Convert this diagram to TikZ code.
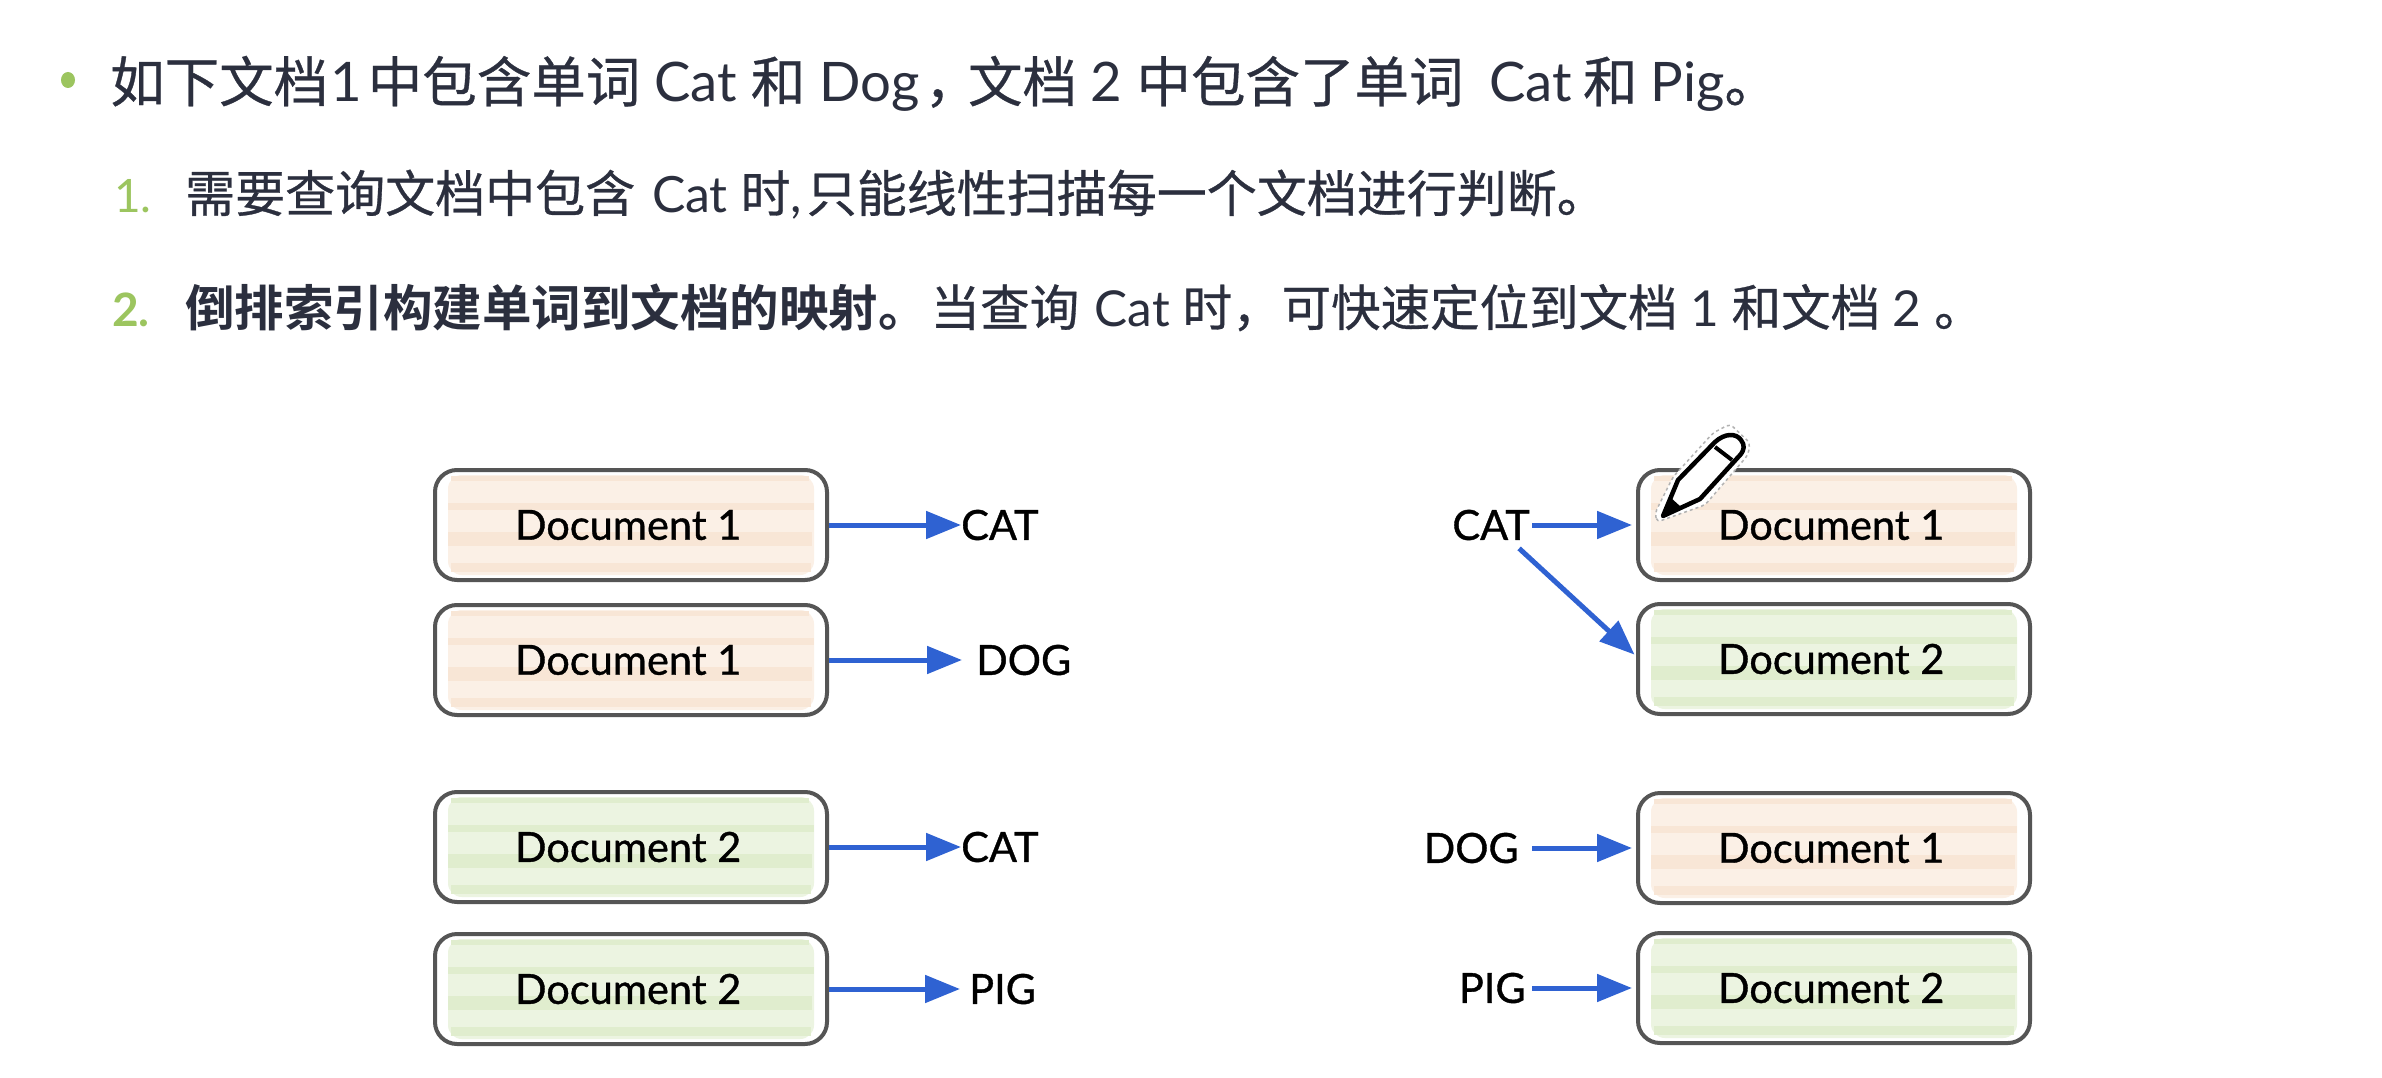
\documentclass[tikz,border=0pt]{standalone}
\usepackage{fontspec}
\setmainfont{Lato}
\newfontfamily\cjk[FakeBold=0.6]{Noto Sans CJK SC}
\newfontfamily\cjkbold{Noto Sans CJK SC Bold}
\newfontfamily\wordfont[FakeBold=0.9]{Lato}
\usetikzlibrary{arrows.meta,calc}
\definecolor{inkdark}{HTML}{2B2F3E}
\definecolor{leaf}{HTML}{9CC55F}
\definecolor{edge}{HTML}{555555}
\definecolor{arrowblue}{HTML}{2F62D2}
\definecolor{peachA}{HTML}{FBF0E6}
\definecolor{peachB}{HTML}{F8E6D6}
\definecolor{greenA}{HTML}{ECF4E1}
\definecolor{greenB}{HTML}{E0EDCE}
\newcommand{\zh}[1]{{\cjk #1}}
\newcommand{\zhb}[1]{{\cjkbold #1}}
% fill and stripes under a box, then the box itself
\newcommand{\doc}[6]{% name, cx, cy, light, dark, text
  \begin{scope}[shift={(#2,#3)}]
    \fill[#4,rounded corners=14pt] (-183,-50) rectangle (183,50);
    \fill[#5] (-180,-49) rectangle (178,-44);
    \fill[#5] (-183,-22) rectangle (183,-15);
    \fill[#5] (-183,7) rectangle (181,21);
    \fill[#5] (-180,38) rectangle (180,47);
  \end{scope}
  \node[docbox] (#1) at (#2,#3) {\makebox[226pt][l]{\hspace{-3pt}#6}};
}
\tikzset{
  x=1pt,y=-1pt,
  head1/.style={anchor=base west,inner sep=0pt,text=inkdark,font=\fontsize{54.5}{60}\selectfont},
  head2/.style={anchor=base west,inner sep=0pt,text=inkdark,font=\fontsize{49.5}{58}\selectfont},
  numlab/.style={anchor=base west,inner sep=0pt,text=leaf,font=\fontsize{46}{52}\selectfont},
  word/.style={inner sep=0pt,text=black,font=\wordfont\fontsize{41.5}{48}\selectfont},
  docbox/.style={draw=edge,line width=4pt,rounded corners=22pt,minimum height=110pt,
    inner xsep=83pt,inner ysep=0pt,text=black,
    font=\wordfont\fontsize{41.5}{48}\selectfont},
  flow/.style={draw=arrowblue,line width=5pt,-{Triangle[length=35pt,width=27pt]}},
}
\begin{document}
\begin{tikzpicture}
\useasboundingbox (0,0) rectangle (2382,1078);
\fill[white] (0,0) rectangle (2382,1078);

% heading text
\fill[leaf] (68,80) ellipse (7pt and 8pt);
\node[head1] (t1) at (110,102) {\zh{如下文档}\hspace{2pt}1\hspace{6pt}\zh{中包含单词} Cat \zh{和} Dog\hspace{5pt}\zh{，}\hspace{-11pt}\zh{文档} 2 \zh{中包含了单词}\hspace{12pt} Cat\hspace{-3pt} \zh{和}\hspace{-1pt} Pig\zh{。}};
\node[numlab] (n1) at (114,212) {1.};
\node[head2,font=\fontsize{50}{58}\selectfont] (t2) at (185,212) {\zh{需要查询文档中包含}\hspace{4pt} Cat \zh{时}, \hspace{-8pt}\zh{只能线性扫描每一个文档进行判断。}};
\node[numlab,font=\fontsize{46}{52}\selectfont\bfseries] (n2) at (112,326) {2.};
\node[head2] (t3) at (185,326) {\zhb{倒排索引构建单词到文档的映射。}\hspace{3pt}\zh{当查询}\hspace{3pt} Cat \zh{时，可快速定位到文档} 1 \zh{和文档} 2 \zh{。}};

% left column
\doc{a1}{631}{525}{peachA}{peachB}{Document 1}
\doc{a2}{631}{660}{peachA}{peachB}{Document 1}
\doc{a3}{631}{847}{greenA}{greenB}{Document 2}
\doc{a4}{631}{989}{greenA}{greenB}{Document 2}
\node[word,anchor=west] (acat) at (961,525) {CAT};
\node[word,anchor=west] (adog) at (976,660) {DOG};
\node[word,anchor=west] (acat2) at (961,847) {CAT};
\node[word,anchor=west] (apig) at (969,989) {PIG};
\draw[flow] (a1.east) -- (a1.east -| acat.west);
\draw[flow,shorten >=14pt] (a2.east) -- (a2.east -| adog.west);
\draw[flow] (a3.east) -- (a3.east -| acat2.west);
\draw[flow,shorten >=9pt] (a4.east) -- (a4.east -| apig.west);

% right column
\doc{b1}{1834}{525}{peachA}{peachB}{Document 1}
\doc{b2}{1834}{659}{greenA}{greenB}{Document 2}
\doc{b3}{1834}{848}{peachA}{peachB}{Document 1}
\doc{b4}{1834}{988}{greenA}{greenB}{Document 2}
\node[word,anchor=east] (bcat) at (1530,525) {CAT};
\node[word,anchor=east] (bdog) at (1519,848) {DOG};
\node[word,anchor=east] (bpig) at (1526,988) {PIG};
\draw[flow,shorten <=2pt,shorten >=4pt] (bcat.east) -- (bcat.east -| b1.west);
\draw[flow,shorten >=2pt] ($(bcat.south)+(28,8)$) -- ($(b2.west)+(0,-3)$);
\draw[flow,shorten <=13pt,shorten >=4pt] (bdog.east) -- (bdog.east -| b3.west);
\draw[flow,shorten <=6pt,shorten >=4pt] (bpig.east) -- (bpig.east -| b4.west);

% pencil
\draw[gray!60,line width=1.5pt,dashed,fill=white,rounded corners=4pt]
  (1657,522) -- (1655,513) -- (1673,477) -- (1713,433) -- (1730,424) -- (1750,443) -- (1748,455)
  -- (1705,505) -- cycle;
\draw[black,line width=4.5pt,line join=round,fill=white]
  (1663,516) -- (1678,480) -- (1715,442) .. controls (1725,433) and (1736,433) .. (1741,440)
  .. controls (1745,445) and (1744,450) .. (1741,454) -- (1700,499) -- cycle;
\draw[black,line width=4pt] (1715,447) -- (1732,460);
\fill[black] (1663,516) -- (1670,497) -- (1681,507) -- cycle;
\end{tikzpicture}
\end{document}
